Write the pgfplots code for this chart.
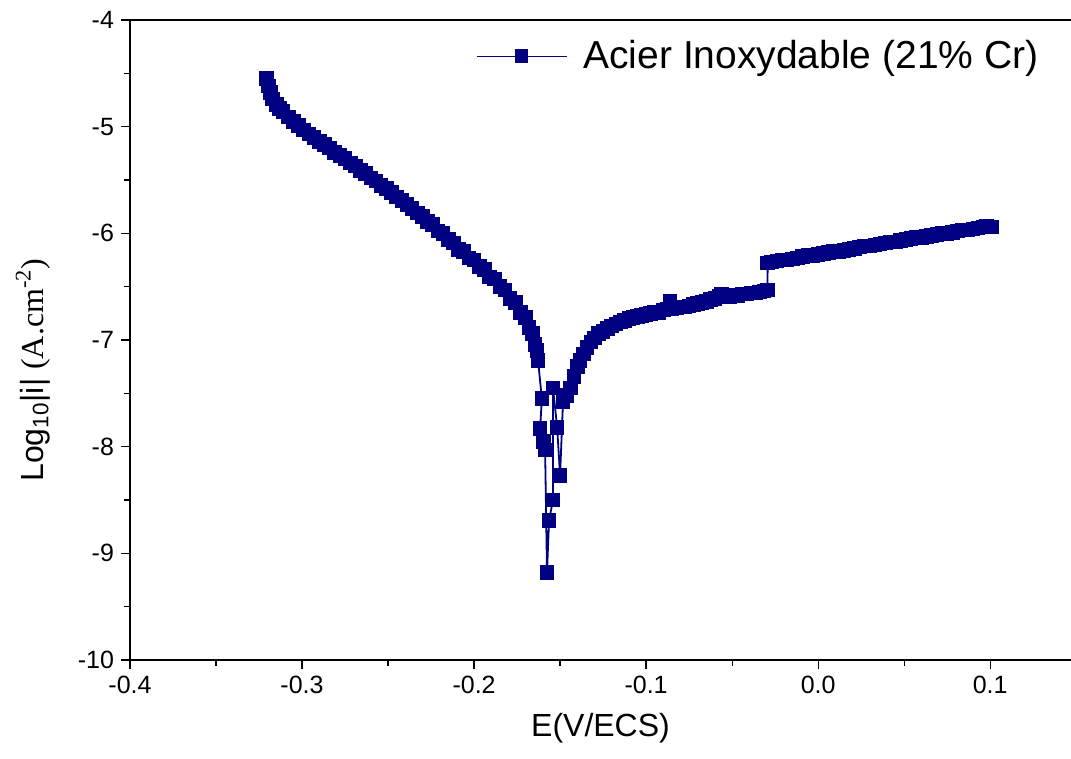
\documentclass[border=0pt]{standalone}
\usepackage{fontspec}
\setmainfont{Liberation Sans}
\newfontfamily\serif{Liberation Serif}
\usepackage{pgfplots}
\pgfplotsset{compat=1.18}
\definecolor{navy}{RGB}{0,0,128}
\begin{document}
\begin{tikzpicture}
\begin{axis}[
  scale only axis,
  width=470.5pt, height=320pt,
  xmin=-0.4, xmax=0.147,
  ymin=-10, ymax=-4,
  separate axis lines,
  axis x line*=box,
  axis y line*=left,
  xtick pos=bottom,
  ytick pos=left,
  tick align=outside,
  major tick length=4.5pt,
  minor tick length=2.8pt,
  tick style={black, line width=0.6pt},
  axis line style={black, line width=0.8pt},
  xtick={-0.4,-0.3,-0.2,-0.1,0,0.1},
  xticklabels={-0.4,-0.3,-0.2,-0.1,0.0,0.1},
  ytick={-10,-9,-8,-7,-6,-5,-4},
  yticklabels={-10,-9,-8,-7,-6,-5,-4},
  minor x tick num=1,
  minor y tick num=1,
  ticklabel style={font=\fontsize{12.5}{14}\selectfont},
  xlabel={E(V/ECS)},
  ylabel={Log\textsubscript{10}|i| {\serif (A.cm\textsuperscript{-2})}},
  label style={font=\fontsize{16}{19}\selectfont},
  ylabel style={at={(ticklabel cs:0.453)}},
  xlabel shift=3pt,
  ylabel shift=7pt,
  legend style={at={(rel axis cs:1,1)}, anchor=north east, xshift=-14pt, yshift=-8pt,
    draw=none, fill=none, inner sep=0pt, font=\fontsize{19.5}{22}\selectfont},
  legend cell align=left,
  legend image code/.code={\draw[mark repeat=2,mark phase=2,#1,line width=0.5pt] plot coordinates {(0pt,0pt) (22.5pt,0pt) (45pt,0pt)}; \path (51pt,0pt);},
]
\addplot[color=navy, line width=0.9pt, mark=square*, mark size=3.2pt, mark options={solid, fill=navy, draw=navy}] coordinates {
(-0.3205,-4.55) (-0.3195,-4.62) (-0.3185,-4.68) (-0.3170,-4.74) (-0.3150,-4.79)
(-0.3130,-4.83) (-0.3110,-4.86) (-0.3080,-4.91) (-0.3050,-4.95) (-0.3020,-4.99)
(-0.2990,-5.03) (-0.2960,-5.07) (-0.2930,-5.10) (-0.2900,-5.14) (-0.2870,-5.17)
(-0.2840,-5.20) (-0.2810,-5.24) (-0.2780,-5.27) (-0.2750,-5.30) (-0.2720,-5.34)
(-0.2690,-5.37) (-0.2660,-5.41) (-0.2630,-5.44) (-0.2600,-5.48) (-0.2570,-5.51)
(-0.2540,-5.55) (-0.2510,-5.58) (-0.2480,-5.62) (-0.2450,-5.66) (-0.2420,-5.69)
(-0.2390,-5.73) (-0.2360,-5.77) (-0.2330,-5.81) (-0.2300,-5.84) (-0.2270,-5.89)
(-0.2240,-5.92) (-0.2210,-5.98) (-0.2180,-6.00) (-0.2150,-6.06) (-0.2120,-6.09)
(-0.2090,-6.15) (-0.2060,-6.17) (-0.2030,-6.23) (-0.2000,-6.25) (-0.1970,-6.31)
(-0.1940,-6.34) (-0.1910,-6.41) (-0.1880,-6.43) (-0.1850,-6.50) (-0.1820,-6.53)
(-0.1790,-6.61) (-0.1760,-6.65) (-0.1730,-6.74) (-0.1700,-6.79) (-0.1680,-6.88)
(-0.1660,-6.94) (-0.1645,-7.04) (-0.1635,-7.10) (-0.1628,-7.19)
(-0.1606,-7.55) (-0.1616,-7.83) (-0.1595,-7.95) (-0.1587,-8.03) (-0.1576,-9.18)
(-0.1564,-8.69) (-0.1541,-8.50) (-0.1541,-7.45) (-0.1517,-7.82) (-0.1500,-8.27)
(-0.1483,-7.58) (-0.1460,-7.52) (-0.1440,-7.45) (-0.1420,-7.34) (-0.1400,-7.25)
(-0.1385,-7.19) (-0.1365,-7.13) (-0.1343,-7.07) (-0.1320,-7.02) (-0.1300,-6.98)
(-0.1275,-6.94) (-0.1250,-6.92) (-0.1225,-6.89) (-0.1200,-6.87) (-0.1175,-6.85)
(-0.1150,-6.83) (-0.1125,-6.82) (-0.1100,-6.80) (-0.1075,-6.79) (-0.1050,-6.78)
(-0.1025,-6.77) (-0.1000,-6.76) (-0.0975,-6.75) (-0.0950,-6.74) (-0.0925,-6.74)
(-0.0900,-6.72) (-0.0875,-6.71) (-0.0860,-6.64) (-0.0850,-6.71) (-0.0825,-6.70)
(-0.0800,-6.69) (-0.0775,-6.69) (-0.0750,-6.68) (-0.0725,-6.67) (-0.0700,-6.66)
(-0.0675,-6.65) (-0.0650,-6.64) (-0.0625,-6.62) (-0.0600,-6.61) (-0.0575,-6.59)
(-0.0560,-6.57) (-0.0540,-6.59) (-0.0515,-6.59) (-0.0490,-6.58) (-0.0465,-6.58)
(-0.0440,-6.57) (-0.0415,-6.57) (-0.0390,-6.56) (-0.0365,-6.56) (-0.0340,-6.55)
(-0.0315,-6.54) (-0.0295,-6.53)
(-0.0293,-6.28) (-0.0270,-6.27) (-0.0240,-6.26) (-0.0210,-6.25) (-0.0180,-6.25)
(-0.0150,-6.24) (-0.0120,-6.23) (-0.0090,-6.22) (-0.0060,-6.21) (-0.0030,-6.21)
(0.0000,-6.20) (0.0030,-6.19) (0.0060,-6.18) (0.0090,-6.17) (0.0120,-6.17)
(0.0150,-6.16) (0.0180,-6.15) (0.0210,-6.14) (0.0240,-6.13) (0.0270,-6.12)
(0.0300,-6.12) (0.0330,-6.11) (0.0360,-6.10) (0.0390,-6.09) (0.0420,-6.08)
(0.0450,-6.08) (0.0480,-6.07) (0.0510,-6.06) (0.0540,-6.05) (0.0570,-6.04)
(0.0600,-6.04) (0.0630,-6.03) (0.0660,-6.02) (0.0690,-6.01) (0.0720,-6.00)
(0.0750,-6.00) (0.0780,-5.99) (0.0810,-5.98) (0.0840,-5.97) (0.0870,-5.97)
(0.0900,-5.96) (0.0930,-5.95) (0.0960,-5.94) (0.0980,-5.93) (0.1000,-5.94)
(0.1010,-5.94)
};
\addlegendentry{Acier Inoxydable (21\% Cr)}
\coordinate (bl) at (rel axis cs:0,0);
\coordinate (tr) at (rel axis cs:1,1);
\end{axis}
\pgfresetboundingbox
\path[use as bounding box] ([shift={(-65pt,-49pt)}]bl) rectangle ([shift={(0pt,10pt)}]tr);
\end{tikzpicture}
\end{document}
